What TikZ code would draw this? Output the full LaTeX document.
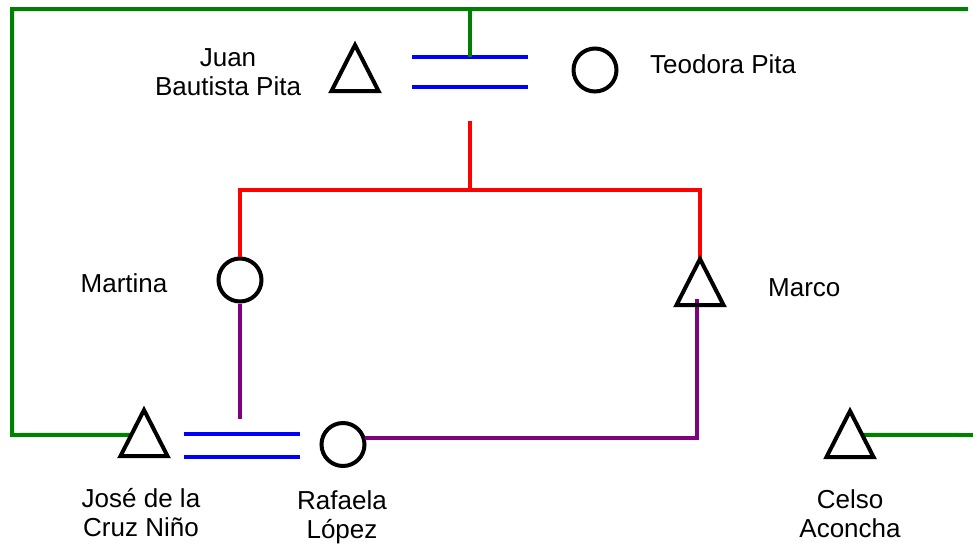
\documentclass[tikz,border=0pt]{standalone}
\usepackage{fontspec}
\setmainfont{Liberation Sans}
\usetikzlibrary{calc}
\definecolor{kgreen}{RGB}{0,128,0}
\definecolor{kpurple}{RGB}{128,0,128}
\definecolor{kred}{RGB}{255,0,0}
\definecolor{kblue}{RGB}{0,0,255}
\begin{document}
\begin{tikzpicture}[x=1pt,y=-1pt,
  lbl/.style={font=\fontsize{26}{29}\selectfont, inner sep=0pt, align=center},
  trinode/.style={minimum width=47pt,minimum height=46pt,inner sep=0pt,outer sep=0pt},
  shapeline/.style={draw=black,line width=4pt,line join=miter},
  circ/.style={circle,draw=black,line width=4pt,minimum size=43pt,inner sep=0pt},
  gline/.style={draw=kgreen,line width=4pt},
  rline/.style={draw=kred,line width=4pt},
  pline/.style={draw=kpurple,line width=4pt},
  bline/.style={draw=kblue,line width=4pt}]
\useasboundingbox (0,0) rectangle (973,544);

% persons
\node[trinode] (juan)  at (355,68)  {};
\node[trinode] (marco) at (700,282) {};
\node[trinode] (jose)  at (144,433) {};
\node[trinode] (celso) at (850,434) {};
\node[circ] (teo) at (595,70)    {};
\node[circ] (mar) at (240,280)   {};
\node[circ] (raf) at (343,444.5) {};

% marriage centres and free ends
\coordinate (m1) at (469.5,72);
\coordinate (m2) at (241.5,445.5);
\coordinate (gTL) at (12,9);
\coordinate (gTR) at (968,9);
\coordinate (gBL) at (12,435);
\coordinate (gM) at (469.5,9);
\coordinate (gEnd) at (973,435);
\coordinate (rTop) at (470,121);
\coordinate (rMid) at (470,190);
\coordinate (pEnd) at (240,419);
\coordinate (mpur) at (697,299);

% marriage lines
\draw[bline] ($(m1)+(-58,-15)$) -- ($(m1)+(58,-15)$);
\draw[bline] ($(m1)+(-58,15)$) -- ($(m1)+(58,15)$);
\draw[bline] ($(m2)+(-58,-11.5)$) -- ($(m2)+(58,-11.5)$);
\draw[bline] ($(m2)+(-58,11.5)$) -- ($(m2)+(58,11.5)$);

% green lines
\draw[gline] ($(jose.north)!0.54!(jose.south west)$) -- (gBL) -- (gTL) -- (gTR);
\draw[gline] (gM) -- ($(m1)+(0,-15)$);
\draw[gline] ($(celso.north)!0.52!(celso.south east)$) -- (gEnd);

% red descent
\draw[rline] (rTop) -- (rMid);
\draw[rline] (mar.north) |- (rMid) -| (marco.north);

% purple
\draw[pline] (mar.south) -- (pEnd);
\draw[pline] (raf.17) -| (mpur);

% triangles
\foreach \n in {juan,marco,jose,celso}
  \draw[shapeline] (\n.south west) -- (\n.north) -- (\n.south east) -- cycle;

% labels
\node[lbl] (tJuan) at (228,72.5) {Juan\\Bautista Pita};
\node[lbl, anchor=west] (tTeo) at (650,64) {Teodora Pita};
\node[lbl] (tMar) at (124,283) {Martina};
\node[lbl, anchor=west] (tMarco) at (768,288) {Marco};
\node[lbl] (tJose) at (141,513) {José de la\\Cruz Niño};
\node[lbl] (tRaf) at (342,517) {Rafaela\\López};
\node[lbl] (tCel) at (850,513.5) {Celso\\Aconcha};
\end{tikzpicture}
\end{document}
